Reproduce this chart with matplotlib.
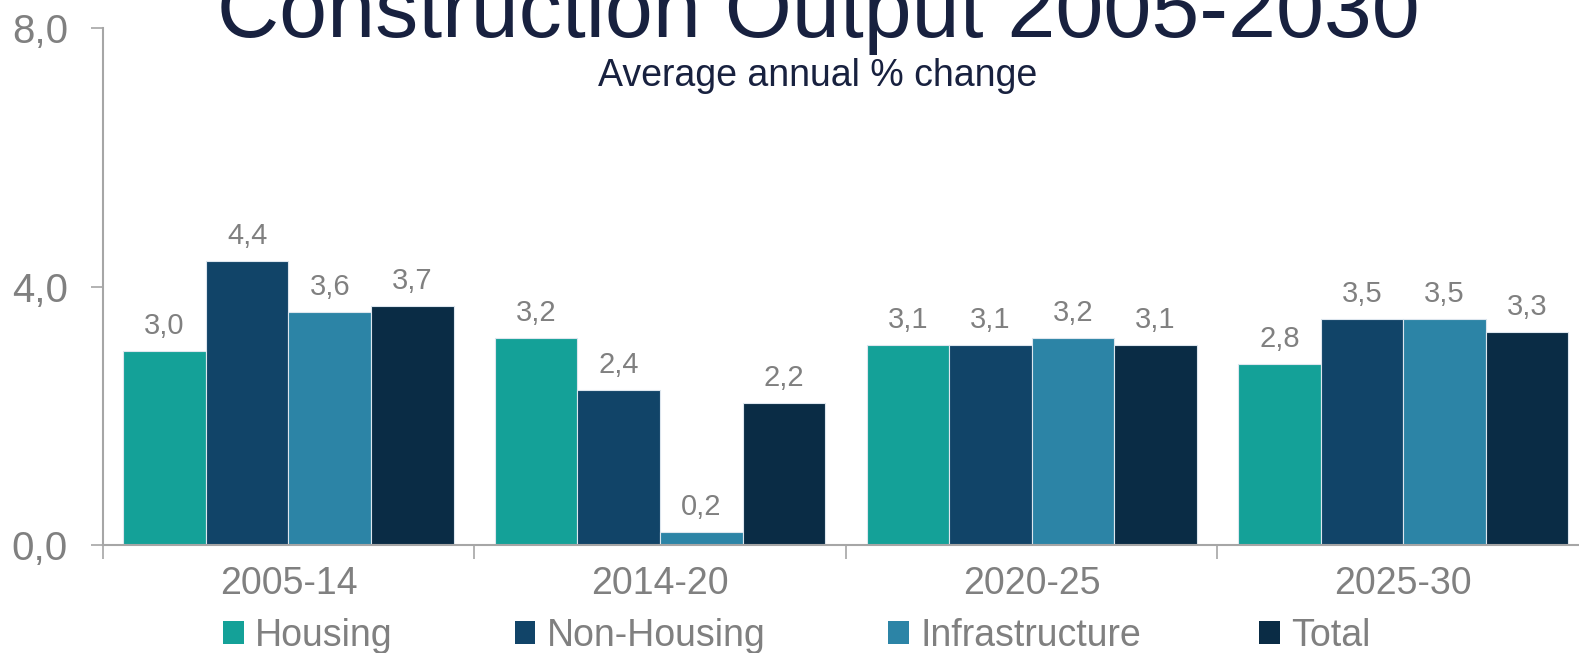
import matplotlib
matplotlib.use("Agg")
import matplotlib.pyplot as plt
import numpy as np
from matplotlib.patches import Patch

categories = ["2005-14", "2014-20", "2020-25", "2025-30"]
series_names = ["Housing", "Non-Housing", "Infrastructure", "Total"]
housing = [3.0, 3.2, 3.1, 2.8]
non_housing = [4.4, 2.4, 3.1, 3.5]
infrastructure = [3.6, 0.2, 3.2, 3.5]
total = [3.7, 2.2, 3.1, 3.3]
yticks = [0.0, 4.0, 8.0]
ytick_labels = ["0,0", "4,0", "8,0"]
colors = ["#14A198", "#114468", "#2C84A6", "#0A2C45"]
legend_x = [0.1415, 0.3260, 0.5625, 0.7975]

plt.rcParams['font.family'] = ['Liberation Sans', 'DejaVu Sans']
gray = "#808080"
axgray = "#A6A6A6"

fig = plt.figure(figsize=(15.79, 6.53), dpi=100)
ax = fig.add_axes([0.065, 0.1654, 0.9414, 0.7916])

x = np.arange(len(categories))
bw = 0.2222
data = [housing, non_housing, infrastructure, total]
for i, (vals, c, name) in enumerate(zip(data, colors, series_names)):
    pos = x + (i - 1.5) * bw
    ax.bar(pos, vals, width=bw, color=c, edgecolor="#DDE6EE", linewidth=0.8, label=name)
    for p, v in zip(pos, vals):
        ax.annotate(f"{v:.1f}".replace(".", ","), (p, v), xytext=(0, 8), textcoords="offset points",
                    ha="center", va="bottom", fontsize=21, color=gray)

ax.set_xlim(-0.5, 3.5)
ax.set_ylim(0, 8)
ax.set_yticks(yticks)
ax.set_yticklabels(ytick_labels)
ax.set_xticks(x - 0.5, minor=False)
ax.set_xticklabels([])
ax.set_xticks(x, minor=True)
ax.set_xticklabels(categories, minor=True)
ax.tick_params(axis='x', which='major', length=10, color=axgray, width=1.2, direction='out')
ax.tick_params(axis='x', which='minor', length=0, labelsize=27, labelcolor=gray, pad=15)
ax.tick_params(axis='y', length=9, color=axgray, width=1.2, labelsize=29, labelcolor=gray, pad=16)
for s in ["top", "right"]:
    ax.spines[s].set_visible(False)
for s in ["left", "bottom"]:
    ax.spines[s].set_color(axgray)
    ax.spines[s].set_linewidth(1.5)

fig.text(0.518, 0.944, "Construction Output 2005-2030", ha="center", va="baseline",
         fontsize=62, color="#18213F")
fig.text(0.518, 0.869, "Average annual % change", ha="center", va="baseline",
         fontsize=27, color="#18213F")

for lx, c, name in zip(legend_x, colors, series_names):
    fig.legend([Patch(facecolor=c, edgecolor="none")], [name], loc="center left",
               bbox_to_anchor=(lx, 0.026), frameon=False, fontsize=27, labelcolor=gray,
               handlelength=0.55, handleheight=0.55, handletextpad=0.3,
               borderaxespad=0, borderpad=0)

fig.savefig("out.png", dpi=100)
